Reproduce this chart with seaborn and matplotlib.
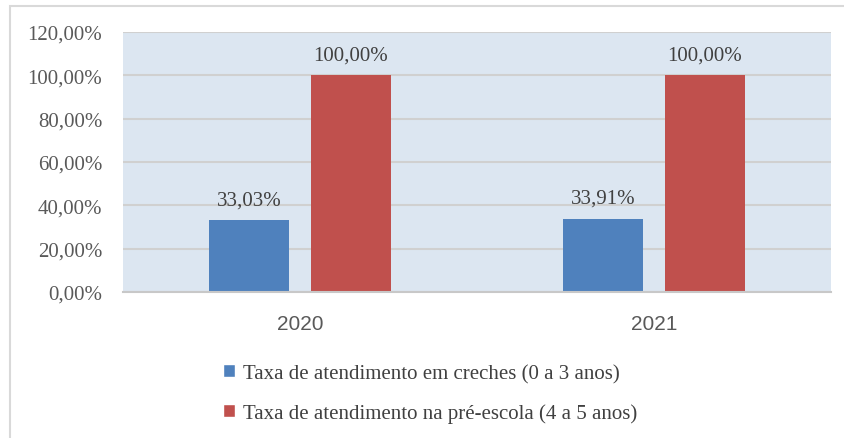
import matplotlib
matplotlib.use('Agg')
import matplotlib.pyplot as plt
import matplotlib.patches as mpatches
from matplotlib.ticker import FuncFormatter
import seaborn as sns
import pandas as pd

# Dados
anos = ['2020', '2021']
series = ['Taxa de atendimento em creches (0 a 3 anos)',
          'Taxa de atendimento na pré-escola (4 a 5 anos)']
creche = [33.03, 33.91]
pre_escola = [100.00, 100.00]
cores = ['#4F81BD', '#C0504D']
y_ticks = [0, 20, 40, 60, 80, 100, 120]

df = pd.DataFrame({
    'ano': anos * 2,
    'taxa': creche + pre_escola,
    'serie': [series[0]] * len(anos) + [series[1]] * len(anos),
})

sns.set_style('white')
SERIF = ['Liberation Serif', 'DejaVu Serif']
plt.rcParams['font.family'] = SERIF

fig = plt.figure(figsize=(8.44, 4.39), dpi=100)
ax = fig.add_axes([123 / 844, 1 - 293 / 439, 708 / 844, 260 / 439])

# moldura externa do gráfico (cortada à direita e embaixo)
fig.patches.append(mpatches.Rectangle((10 / 844, -0.05), 1.1, 1 - 7 / 439 + 0.05,
                                      transform=fig.transFigure, fill=False,
                                      edgecolor='#D9D9D9', linewidth=1.5))

sns.barplot(data=df, x='ano', y='taxa', hue='serie', palette=cores,
            width=0.573, gap=0.21, ax=ax, legend=False, saturation=1,
            edgecolor='none')

ax.set_facecolor('#DCE6F1')
ax.set_ylim(0, 120)
ax.set_yticks(y_ticks)
ax.yaxis.set_major_formatter(FuncFormatter(lambda v, p: f'{v:.2f}%'.replace('.', ',')))
ax.grid(axis='y', color='#D0D0D0', linewidth=1.5)
ax.set_axisbelow(True)
for s in ['top', 'left', 'right']:
    ax.spines[s].set_visible(False)
ax.spines['bottom'].set_color('#C8C8C8')
ax.spines['bottom'].set_linewidth(1.5)
ax.tick_params(axis='y', length=0, pad=15, labelsize=15, labelcolor='#595959')
ax.tick_params(axis='x', length=0, pad=16, labelsize=15, labelcolor='#595959')
for lbl in ax.get_xticklabels():
    lbl.set_family(['Liberation Sans Narrow', 'Liberation Sans', 'DejaVu Sans'])
ax.set_xlabel('')
ax.set_ylabel('')

for cont in ax.containers:
    ax.bar_label(cont, labels=[f'{v:.2f}%'.replace('.', ',') for v in cont.datavalues],
                 padding=8, fontsize=15, color='#404040', family=SERIF)

handles = [mpatches.Patch(facecolor=c, edgecolor='white') for c in cores]
leg = fig.legend(handles, series, loc='upper left', bbox_to_anchor=(204 / 844, 1 - 346 / 439),
                 frameon=False, fontsize=15, labelcolor='#404040',
                 handlelength=0.6, handleheight=0.6, handletextpad=0.35, labelspacing=0.95)
for t in leg.get_texts():
    t.set_family('Liberation Serif')

fig.savefig('out.png', dpi=100)
